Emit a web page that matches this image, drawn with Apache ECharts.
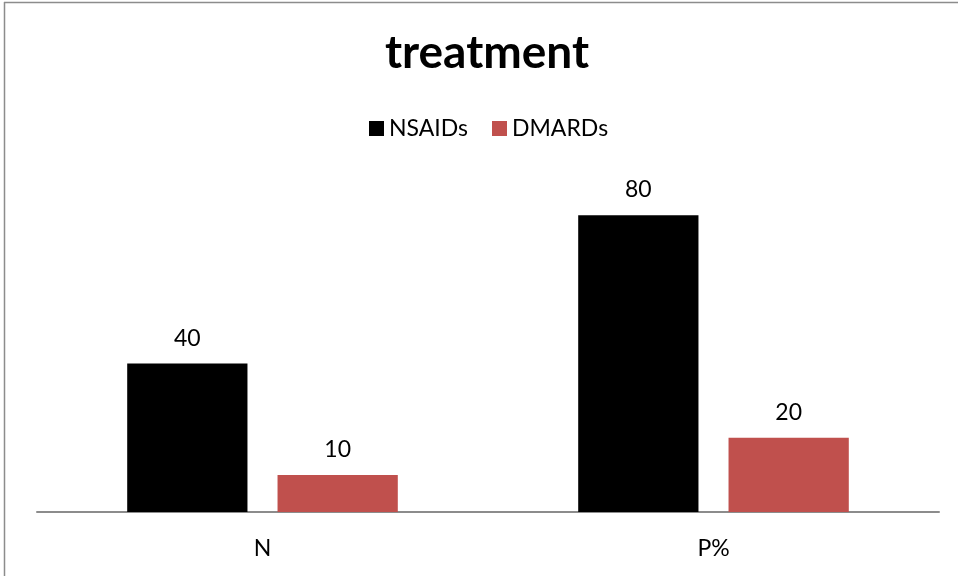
<!DOCTYPE html>
<html>
<head>
<meta charset="utf-8">
<script src="https://cdn.jsdelivr.net/npm/echarts@6/dist/echarts.min.js"></script>
<style>
  html, body { margin: 0; padding: 0; background: #ffffff; }
  #chart { width: 958px; height: 576px; }
</style>
</head>
<body>
<div id="chart"></div>
<script>
// Treatment counts and percentages by drug class
const categories = ['N', 'P%'];
const nsaids = [40, 80];
const dmards = [10, 20];

const FONT = 'Lato, "Open Sans", sans-serif';

const chart = echarts.init(document.getElementById('chart'));
chart.setOption({
  animation: false,
  backgroundColor: '#ffffff',
  title: {
    text: 'treatment',
    left: 482,
    textAlign: 'center',
    top: 25,
    textStyle: { fontFamily: FONT, fontSize: 46, fontWeight: 'bold', color: '#000000' }
  },
  legend: {
    left: 369,
    top: 117,
    padding: 0,
    itemWidth: 15,
    itemHeight: 15,
    itemGap: 24,
    icon: 'rect',
    textStyle: { fontFamily: FONT, fontSize: 23, color: '#000000' },
    data: ['NSAIDs', 'DMARDs']
  },
  grid: { left: 37, right: 19, top: 141, bottom: 64 },
  xAxis: {
    type: 'category',
    data: categories,
    axisLine: { lineStyle: { color: '#8c8c8c', width: 2 } },
    axisTick: { show: false },
    axisLabel: { fontFamily: FONT, fontSize: 23, color: '#000000', margin: 25 }
  },
  yAxis: {
    type: 'value',
    min: 0,
    max: 100,
    show: false,
    splitLine: { show: false }
  },
  series: [
    {
      name: 'NSAIDs',
      type: 'bar',
      data: nsaids,
      itemStyle: { color: '#000000' },
      barGap: '25%',
      barCategoryGap: '40%',
      label: { show: true, position: 'top', distance: 14, fontFamily: FONT, fontSize: 23, color: '#000000' }
    },
    {
      name: 'DMARDs',
      type: 'bar',
      data: dmards,
      itemStyle: { color: '#c0504d' },
      label: { show: true, position: 'top', distance: 14, fontFamily: FONT, fontSize: 23, color: '#000000' }
    }
  ],
  graphic: [
    { type: 'line', shape: { x1: 4, y1: 2.5, x2: 958, y2: 2.5 }, style: { stroke: '#8c8c8c', lineWidth: 1.5 } },
    { type: 'line', shape: { x1: 4.5, y1: 2, x2: 4.5, y2: 576 }, style: { stroke: '#8c8c8c', lineWidth: 1.5 } }
  ]
});
</script>
</body>
</html>
